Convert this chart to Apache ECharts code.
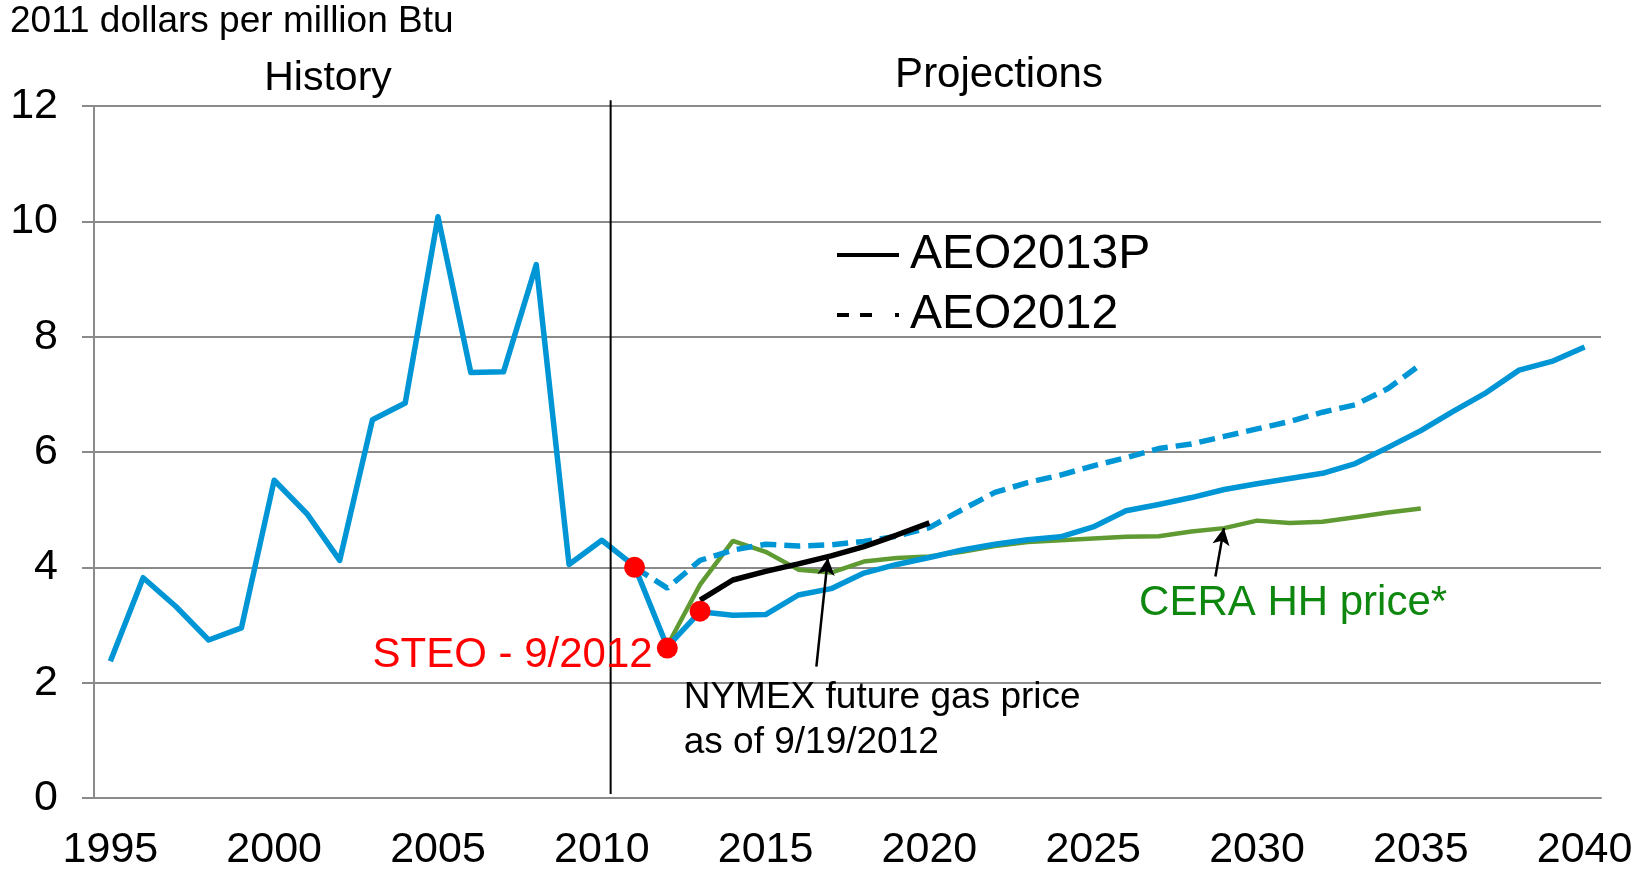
<!DOCTYPE html>
<html>
<head>
<meta charset="utf-8">
<title>Natural gas price projections</title>
<script src="https://cdn.jsdelivr.net/npm/echarts@6/dist/echarts.min.js"></script>
<style>
  html, body { margin: 0; padding: 0; background: #fff; }
  #chart { width: 1646px; height: 869px; }
</style>
</head>
<body>
<div id="chart"></div>
<script>
const years = [
  '1995','1996','1997','1998','1999','2000','2001','2002','2003','2004',
  '2005','2006','2007','2008','2009','2010','2011','2012','2013','2014',
  '2015','2016','2017','2018','2019','2020','2021','2022','2023','2024',
  '2025','2026','2027','2028','2029','2030','2031','2032','2033','2034',
  '2035','2036','2037','2038','2039','2040'
]
// history + AEO2013P (blue solid)
const aeo2013 = [
  2.37, 3.82, 3.32, 2.74, 2.95, 5.51, 4.93, 4.12, 6.56, 6.85,
  10.08, 7.38, 7.39, 9.25, 4.05, 4.47, 4.02, 2.62, 3.23, 3.17,
  3.18, 3.52, 3.63, 3.90, 4.05, 4.17, 4.30, 4.40, 4.48, 4.53,
  4.70, 4.98, 5.09, 5.21, 5.35, 5.45, 5.54, 5.63, 5.80, 6.08,
  6.37, 6.71, 7.03, 7.42, 7.57, 7.82
]
// AEO2012 (blue dashed), 2011-2035
const aeo2012 = [
  null, null, null, null, null, null, null, null, null, null,
  null, null, null, null, null, null, 4.00, 3.64, 4.12, 4.30,
  4.40, 4.37, 4.39, 4.45, 4.54, 4.69, 5.00, 5.30, 5.47, 5.60,
  5.76, 5.90, 6.06, 6.14, 6.27, 6.40, 6.53, 6.69, 6.82, 7.10,
  7.52, null, null, null, null, null
]
// CERA HH price (green), 2012-2035
const cera = [
  null, null, null, null, null, null, null, null, null, null,
  null, null, null, null, null, null, null, 2.64, 3.70, 4.46,
  4.27, 3.96, 3.91, 4.10, 4.16, 4.19, 4.27, 4.37, 4.44, 4.47,
  4.50, 4.53, 4.54, 4.62, 4.68, 4.81, 4.77, 4.79, 4.87, 4.95,
  5.02, null, null, null, null, null
]
// NYMEX futures as of 9/19/2012 (black), 2013-2020
const nymex = [
  null, null, null, null, null, null, null, null, null, null,
  null, null, null, null, null, null, null, null, 3.43, 3.78,
  3.93, 4.06, 4.20, 4.36, 4.56, 4.77, null, null, null, null,
  null, null, null, null, null, null, null, null, null, null,
  null, null, null, null, null, null
]
// STEO 9/2012 points (red), 2011-2013
const steo = [
  null, null, null, null, null, null, null, null, null, null,
  null, null, null, null, null, null, 4.00, 2.60, 3.24, null,
  null, null, null, null, null, null, null, null, null, null,
  null, null, null, null, null, null, null, null, null, null,
  null, null, null, null, null, null
]
// history / projections divider (year position, y from-to)
const dividerX = 2010.27
const dividerY = [0.07, 12.1]
// annotation arrows: [tail, head] as [year, value]
const nymexArrow = [[2016.55, 2.28], [2016.9, 4.16]]
const ceraArrow = [[2028.73, 3.84], [2028.99, 4.68]]

const FONT = 'Liberation Sans, Arial, sans-serif'
const BLUE = '#0096D6'
const GREEN = '#5F9B32'
const GRID = '#8A8A8A'

// legend keys drawn as black strokes like the original
const solidKey = 'path://M0,0h62v4h-62z'
const dashKey = 'path://M0,0h12v4h-12zM23,0h12v4h-12zM58,0h4v4h-4z'

const chart = echarts.init(document.getElementById('chart'))

const option = {
  animation: false,
  backgroundColor: '#fff',
  textStyle: { fontFamily: FONT },
  grid: { left: 94, right: 45, top: 106, bottom: 71, containLabel: false, outerBoundsMode: 'none' },
  legend: {
    orient: 'vertical',
    left: 832,
    top: 226,
    itemWidth: 62,
    itemHeight: 4,
    itemGap: 12,
    selectedMode: false,
    textStyle: { fontSize: 48, color: '#000', fontFamily: FONT, padding: [0, 0, 0, 6] },
    data: [
      { name: 'AEO2013P', icon: solidKey, itemStyle: { color: '#000', opacity: 1 } },
      { name: 'AEO2012', icon: dashKey, itemStyle: { color: '#000', opacity: 1 } }
    ]
  },
  xAxis: [
    {
      type: 'category',
      data: years,
      boundaryGap: true,
      axisLine: { lineStyle: { color: GRID, width: 2 } },
      axisTick: { interval: 4, length: 13, lineStyle: { color: GRID, width: 2 } },
      axisLabel: { interval: 4, fontSize: 43, color: '#000', margin: 31, fontFamily: FONT },
      splitLine: { show: false }
    },
    {
      type: 'value',
      min: 1994.5,
      max: 2040.5,
      show: false
    }
  ],
  yAxis: {
    type: 'value',
    min: 0,
    max: 12,
    interval: 2,
    axisLine: { show: true, lineStyle: { color: GRID, width: 2 } },
    axisTick: { show: true, length: 12, lineStyle: { color: GRID, width: 2 } },
    axisLabel: { fontSize: 43, color: '#000', margin: 36, fontFamily: FONT },
    splitLine: { lineStyle: { color: GRID, width: 2 } }
  },
  graphic: [
    { type: 'text', z: 10, style: { x: 10, y: 22, text: '2011 dollars per million Btu', textVerticalAlign: 'middle', fontSize: 37, fill: '#000', fontFamily: FONT } },
    { type: 'text', z: 10, style: { x: 328, y: 79, text: 'History', textAlign: 'center', textVerticalAlign: 'middle', fontSize: 41, fill: '#000', fontFamily: FONT } },
    { type: 'text', z: 10, style: { x: 999, y: 75, text: 'Projections', textAlign: 'center', textVerticalAlign: 'middle', fontSize: 42, fill: '#000', fontFamily: FONT } }
  ],
  series: [
    {
      name: 'CERA HH price*',
      type: 'line',
      data: cera,
      symbol: 'none',
      z: 2,
      lineStyle: { color: GREEN, width: 4.5 },
      itemStyle: { color: GREEN }
    },
    {
      name: 'AEO2012',
      type: 'line',
      data: aeo2012,
      symbol: 'none',
      z: 3,
      lineStyle: { color: BLUE, width: 5.5, type: [16, 8] },
      itemStyle: { color: BLUE }
    },
    {
      name: 'AEO2013P',
      type: 'line',
      data: aeo2013,
      symbol: 'none',
      z: 4,
      lineStyle: { color: BLUE, width: 5.5, join: 'round' },
      itemStyle: { color: BLUE }
    },
    {
      name: 'NYMEX',
      type: 'line',
      data: nymex,
      symbol: 'none',
      z: 5,
      lineStyle: { color: '#000', width: 5.5 },
      itemStyle: { color: '#000' }
    },
    {
      name: 'STEO - 9/2012',
      type: 'line',
      data: steo,
      z: 6,
      symbol: 'circle',
      symbolSize: 21,
      lineStyle: { width: 0, opacity: 0 },
      itemStyle: { color: '#FF0000' }
    },
    {
      name: 'divider',
      type: 'line',
      xAxisIndex: 1,
      clip: false,
      symbol: 'none',
      z: 7,
      data: [[dividerX, dividerY[0]], [dividerX, dividerY[1]]],
      lineStyle: { color: '#000', width: 2 }
    },
    {
      name: 'arrows',
      type: 'line',
      xAxisIndex: 1,
      data: [],
      z: 8,
      markLine: {
        silent: true,
        symbol: ['none', 'arrow'],
        symbolSize: [13, 17],
        label: { show: false },
        lineStyle: { color: '#000', width: 2.5, type: 'solid' },
        data: [
          [{ coord: nymexArrow[0] }, { coord: nymexArrow[1] }],
          [{ coord: ceraArrow[0] }, { coord: ceraArrow[1] }]
        ]
      }
    },
    {
      name: 'notes',
      type: 'scatter',
      xAxisIndex: 1,
      symbolSize: 0,
      z: 9,
      silent: true,
      itemStyle: { opacity: 1 },
      label: {
        show: true,
        position: 'right',
        distance: 0,
        opacity: 1,
        fontFamily: FONT,
        formatter: p => p.data.text
      },
      data: [
        { value: [2003.0, 2.47], text: 'STEO - 9/2012', label: { fontSize: 42, color: '#FF0000' } },
        { value: [2012.5, 1.34], text: 'NYMEX future gas price\nas of 9/19/2012', label: { fontSize: 37, lineHeight: 45, color: '#000' } },
        { value: [2026.4, 3.37], text: 'CERA HH price*', label: { fontSize: 42, color: '#0E870E' } }
      ]
    }
  ]
}

chart.setOption(option)
window.addEventListener('resize', () => { chart.resize() })
</script>
</body>
</html>
